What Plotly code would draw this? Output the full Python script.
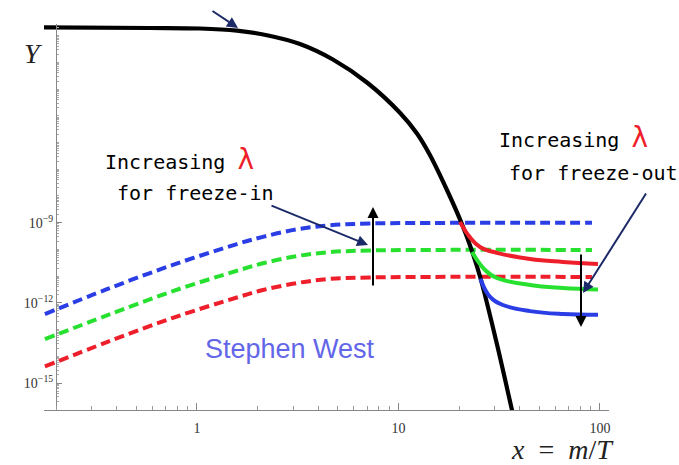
import plotly.graph_objects as go

# ---- data (log10 of Y where noted) ----
# equilibrium abundance (black curve)
x_eq = [0.174, 0.585, 1.035, 1.579, 2.225, 3.245, 4.73, 6.98, 10.17, 12.36, 14.33,
        17.41, 20.66, 23.17, 25.53, 30.48, 36.59, 39.18]
logY_eq = [-1.695, -1.714, -1.733, -1.815, -1.984, -2.313, -2.893, -3.754, -4.884, -5.662, -6.467,
           -7.777, -9.049, -10.060, -11.070, -13.391, -16.010, -17.021]

# freeze-in (dashed) curves, three couplings
x_fi = [0.176, 0.3575, 0.760, 1.579, 2.126, 3.135, 4.571, 7.22, 14.33, 91.3]
logY_fi_blue = [-12.42, -11.49, -10.58, -9.80, -9.53, -9.25, -9.10, -9.03, -9.01, -9.00]
logY_fi_green = [-13.36, -12.47, -11.56, -10.80, -10.52, -10.25, -10.10, -10.04, -10.02, -10.02]
logY_fi_red = [-14.38, -13.47, -12.56, -11.80, -11.52, -11.26, -11.10, -11.05, -11.03, -11.03]

# freeze-out (solid) curves
x_fo_red = [20.2, 22.6, 25.4, 30.8, 45.0, 65.5, 97.8]
logY_fo_red = [-8.97, -9.54, -9.91, -10.13, -10.36, -10.47, -10.55]
x_fo_green = [23.2, 26.9, 30.8, 45.0, 65.5, 97.8]
logY_fo_green = [-10.10, -10.77, -11.07, -11.33, -11.44, -11.50]
x_fo_blue = [25.5, 28.5, 33.0, 45.0, 65.5, 97.8]
logY_fo_blue = [-11.10, -11.78, -12.08, -12.31, -12.42, -12.45]

x_ticks = [1, 10, 100]
x_ticktext = ["1", "10", "100"]
y_tick_exp = [-15, -12, -9]

BLUE = "#2b3ee6"
GREEN = "#28e030"
RED = "#ee1f2a"
NAVY = "#1c2b68"

def pw(v):
    return [10 ** e for e in v]

W, H = 679, 465
L, R, T, B = 44, 609, 24, 410
X_RANGE = [-0.759, 2.045]
Y_RANGE = [-16.01, -1.565]

def paper(px, py):
    return (px - L) / (R - L), (B - py) / (B - T)

fig = go.Figure()

dash = "10px,5px"
for ys, col in [(logY_fi_blue, BLUE), (logY_fi_green, GREEN), (logY_fi_red, RED)]:
    fig.add_trace(go.Scatter(x=x_fi, y=pw(ys), mode="lines",
                             line=dict(color=col, width=4, dash=dash, shape="spline", smoothing=1.0)))

fig.add_trace(go.Scatter(x=x_eq, y=pw(logY_eq), mode="lines",
                         line=dict(color="black", width=4.2, shape="spline", smoothing=1.0)))

for xs, ys, col in [(x_fo_red, logY_fo_red, RED), (x_fo_green, logY_fo_green, GREEN),
                    (x_fo_blue, logY_fo_blue, BLUE)]:
    fig.add_trace(go.Scatter(x=xs, y=pw(ys), mode="lines",
                             line=dict(color=col, width=4, shape="spline", smoothing=1.2)))

x_minor = [k * 10 ** d for d in (-1, 0, 1) for k in range(2, 10)]
y_minor = [k * 10.0 ** d for d in range(-17, -1) for k in range(1, 10)
           if not (k == 1 and d in y_tick_exp)]

tickfont = dict(family="Liberation Serif", size=14, color="#333")

fig.update_layout(
    width=W, height=H,
    margin=dict(l=L, r=W - R, t=T, b=H - B),
    paper_bgcolor="white", plot_bgcolor="white",
    showlegend=False,
    xaxis=dict(type="log", range=X_RANGE, showgrid=False, zeroline=False,
               showline=True, linecolor="#888", linewidth=1,
               ticks="inside", ticklen=7, tickcolor="#888",
               tickvals=x_ticks, ticktext=x_ticktext, tickfont=tickfont,
               ticklabelstandoff=5,
               minor=dict(tickvals=x_minor, ticks="inside", ticklen=4, tickcolor="#999")),
    yaxis=dict(type="log", range=Y_RANGE, showgrid=False, zeroline=False,
               anchor="free", position=(56 - L) / (R - L),
               showline=True, linecolor="#888", linewidth=1,
               ticks="inside", ticklen=5, tickcolor="#888",
               tickvals=[10.0 ** e for e in y_tick_exp],
               ticktext=["10<sup>\u2212%d</sup>" % (-e) for e in y_tick_exp],
               tickfont=tickfont,
               minor=dict(tickvals=y_minor, ticks="inside", ticklen=2, tickcolor="#aaa")),
)

mono = dict(family="DejaVu Sans Mono", size=20, color="#000")
lam = "<span style='color:%s;font-size:28px;font-family:DejaVu Sans'>\u03bb</span>" % RED

def text_at(px, py, s, font, xanchor="left"):
    x, y = paper(px, py)
    fig.add_annotation(x=x, y=y, xref="paper", yref="paper", text=s, showarrow=False,
                       xanchor=xanchor, yanchor="middle", font=font)

def arrow(x0, y0, x1, y1, color, width=2):
    x, y = paper(x1, y1)
    fig.add_annotation(x=x, y=y, xref="paper", yref="paper", text="", showarrow=True,
                       ax=x0 - x1, ay=y0 - y1, arrowhead=2, arrowsize=1.1,
                       arrowwidth=width, arrowcolor=color, standoff=0)

text_at(103, 159, "Increasing " + lam, mono)
text_at(115, 193, "for freeze-in", mono)
text_at(497, 137, "Increasing " + lam, mono)
text_at(507, 173, "for freeze-out", mono)

text_at(203, 349, "Stephen West",
        dict(family="Liberation Sans", size=27, color="#6366e8"))

text_at(33, 53, "<i>Y</i>", dict(family="Liberation Serif", size=28, color="#222"), xanchor="center")
text_at(509, 450, "<i>x</i>&nbsp; = &nbsp;<i>m</i>/<i>T</i>",
        dict(family="Liberation Serif", size=28, color="#222"))

arrow(270, 205, 368, 245, NAVY)
arrow(373, 287, 373, 207, "black")
arrow(647, 192, 583, 293, NAVY)
arrow(581, 253, 581, 327, "black")
arrow(211, 10, 238, 28, NAVY)

fig.write_html("out.html")
